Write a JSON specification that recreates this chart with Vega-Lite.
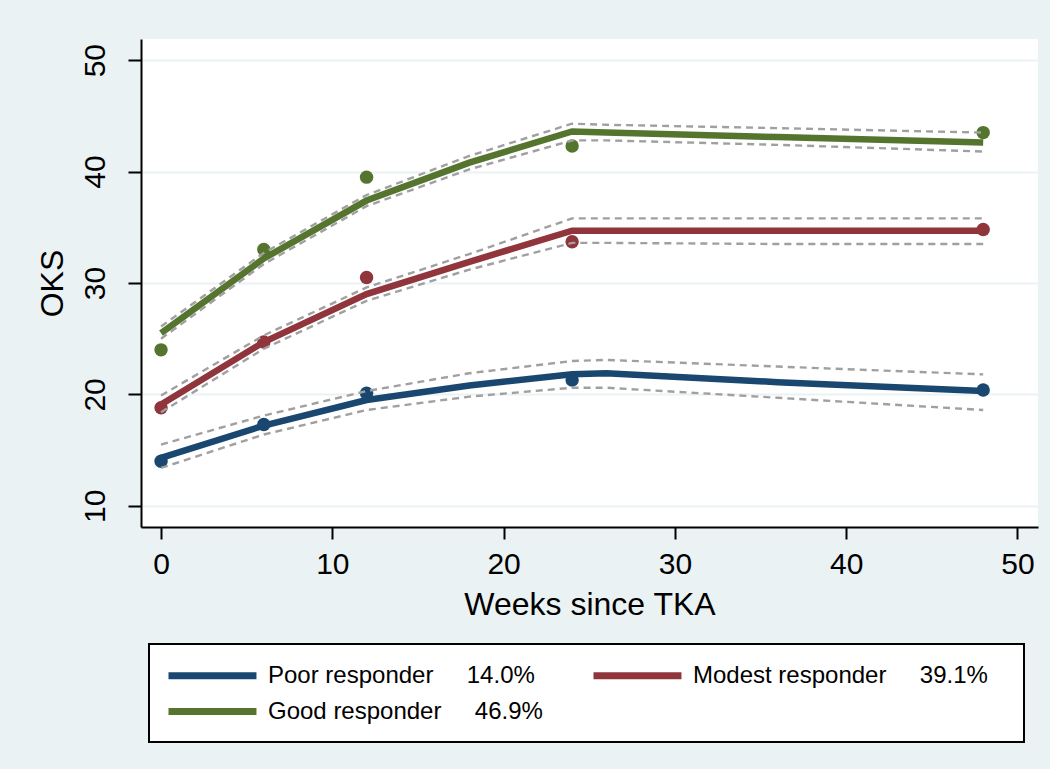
{
  "$schema": "https://vega.github.io/schema/vega-lite/v6.json",
  "autosize": "none",
  "width": 897,
  "height": 488,
  "padding": {"left": 141, "top": 39, "right": 12, "bottom": 242},
  "background": "#eaf2f3",
  "view": {"fill": "white", "stroke": null},
  "datasets": {
    "curves": [
      {"g": "Poor", "w": 0, "fit": 14.3, "lo": 13.4, "hi": 15.5},
      {"g": "Poor", "w": 6, "fit": 17.2, "lo": 16.4, "hi": 18.1},
      {"g": "Poor", "w": 12, "fit": 19.5, "lo": 18.6, "hi": 20.3},
      {"g": "Poor", "w": 18, "fit": 20.8, "lo": 19.8, "hi": 21.9},
      {"g": "Poor", "w": 24, "fit": 21.8, "lo": 20.6, "hi": 23.0},
      {"g": "Poor", "w": 26, "fit": 21.9, "lo": 20.6, "hi": 23.1},
      {"g": "Poor", "w": 36, "fit": 21.1, "lo": 19.7, "hi": 22.5},
      {"g": "Poor", "w": 48, "fit": 20.3, "lo": 18.6, "hi": 21.8},
      {"g": "Modest", "w": 0, "fit": 19.1, "lo": 18.4, "hi": 19.9},
      {"g": "Modest", "w": 6, "fit": 24.7, "lo": 24.1, "hi": 25.3},
      {"g": "Modest", "w": 12, "fit": 29.0, "lo": 28.4, "hi": 29.6},
      {"g": "Modest", "w": 18, "fit": 31.9, "lo": 31.2, "hi": 32.6},
      {"g": "Modest", "w": 24, "fit": 34.7, "lo": 33.6, "hi": 35.8},
      {"g": "Modest", "w": 26, "fit": 34.7, "lo": 33.6, "hi": 35.8},
      {"g": "Modest", "w": 36, "fit": 34.7, "lo": 33.5, "hi": 35.8},
      {"g": "Modest", "w": 48, "fit": 34.7, "lo": 33.5, "hi": 35.8},
      {"g": "Good", "w": 0, "fit": 25.5, "lo": 25.0, "hi": 26.1},
      {"g": "Good", "w": 6, "fit": 32.2, "lo": 31.7, "hi": 32.7},
      {"g": "Good", "w": 12, "fit": 37.4, "lo": 36.9, "hi": 37.9},
      {"g": "Good", "w": 18, "fit": 40.8, "lo": 40.2, "hi": 41.4},
      {"g": "Good", "w": 24, "fit": 43.6, "lo": 42.8, "hi": 44.3},
      {"g": "Good", "w": 26, "fit": 43.5, "lo": 42.8, "hi": 44.2},
      {"g": "Good", "w": 36, "fit": 43.1, "lo": 42.4, "hi": 43.9},
      {"g": "Good", "w": 48, "fit": 42.6, "lo": 41.8, "hi": 43.5}
    ],
    "obs": [
      {"g": "Poor", "w": 0, "oks": 14.0},
      {"g": "Poor", "w": 6, "oks": 17.3},
      {"g": "Poor", "w": 12, "oks": 20.1},
      {"g": "Poor", "w": 24, "oks": 21.3},
      {"g": "Poor", "w": 48, "oks": 20.4},
      {"g": "Modest", "w": 0, "oks": 18.8},
      {"g": "Modest", "w": 6, "oks": 24.7},
      {"g": "Modest", "w": 12, "oks": 30.5},
      {"g": "Modest", "w": 24, "oks": 33.7},
      {"g": "Modest", "w": 48, "oks": 34.8},
      {"g": "Good", "w": 0, "oks": 24.0},
      {"g": "Good", "w": 6, "oks": 33.0},
      {"g": "Good", "w": 12, "oks": 39.5},
      {"g": "Good", "w": 24, "oks": 42.3},
      {"g": "Good", "w": 48, "oks": 43.5}
    ]
  },
  "encoding": {
    "x": {
      "field": "w", "type": "quantitative",
      "scale": {"domain": [-1.17, 51.2], "nice": false, "zero": false},
      "axis": {
        "title": "Weeks since TKA",
        "values": [0, 10, 20, 30, 40, 50],
        "grid": false,
        "domainColor": "black", "domainWidth": 2,
        "tickColor": "black", "tickWidth": 2, "tickSize": 12,
        "labelFontSize": 30, "labelPadding": 10, "labelColor": "black",
        "titleFontSize": 32, "titleFontWeight": "normal", "titleColor": "black", "titlePadding": 10
      }
    }
  },
  "layer": [
    {
      "data": {"name": "curves"},
      "mark": {"type": "line", "strokeWidth": 6.5, "strokeCap": "butt"},
      "encoding": {
        "y": {
          "field": "fit", "type": "quantitative",
          "scale": {"domain": [8.1, 51.9], "nice": false, "zero": false},
          "axis": {
            "title": "OKS",
            "values": [10, 20, 30, 40, 50],
            "grid": true, "gridColor": "#eaf2f3", "gridWidth": 2,
            "domainColor": "black", "domainWidth": 2,
            "tickColor": "black", "tickWidth": 2, "tickSize": 13,
            "labelFontSize": 30, "labelAngle": 270, "labelAlign": "center", "labelBaseline": "bottom",
            "labelPadding": 18, "labelColor": "black",
            "titleFontSize": 32, "titleFontWeight": "normal", "titleColor": "black", "titlePadding": 11
          }
        },
        "color": {
          "field": "g", "type": "nominal",
          "scale": {"domain": ["Poor", "Modest", "Good"], "range": ["#1a476f", "#90353b", "#55752f"]},
          "legend": {
            "orient": "none", "legendX": 8, "legendY": 605,
            "columns": 2, "direction": "horizontal", "title": null,
            "labelExpr": "datum.value == 'Poor' ? 'Poor responder\u00a0\u00a0\u00a0\u00a0\u00a014.0%' : datum.value == 'Modest' ? 'Modest responder\u00a0\u00a0\u00a0\u00a0\u00a039.1%\u00a0\u00a0\u00a0\u200b' : 'Good responder\u00a0\u00a0\u00a0\u00a0\u00a046.9%'",
            "symbolType": "M-1,0H6.33", "symbolSize": 576, "symbolStrokeWidth": 7,
            "labelFontSize": 24, "labelOffset": 72, "labelColor": "black", "labelLimit": 600,
            "columnPadding": 36, "rowPadding": 6, "padding": 16,
            "strokeColor": "black", "fillColor": "white"
          }
        },
        "detail": {"field": "g"}
      }
    },
    {
      "data": {"name": "obs"},
      "mark": {"type": "point", "filled": true, "size": 180, "opacity": 1},
      "encoding": {
        "y": {"field": "oks", "type": "quantitative"},
        "color": {"field": "g", "type": "nominal", "legend": null}
      }
    },
    {
      "data": {"name": "curves"},
      "mark": {"type": "line", "color": "#a0a0a0", "strokeWidth": 2.4, "strokeDash": [7, 5]},
      "encoding": {
        "y": {"field": "lo", "type": "quantitative"},
        "detail": {"field": "g"}
      }
    },
    {
      "data": {"name": "curves"},
      "mark": {"type": "line", "color": "#a0a0a0", "strokeWidth": 2.4, "strokeDash": [7, 5]},
      "encoding": {
        "y": {"field": "hi", "type": "quantitative"},
        "detail": {"field": "g"}
      }
    }
  ],
  "config": {
    "font": "Liberation Sans",
    "legend": {"strokeWidth": 2}
  }
}
